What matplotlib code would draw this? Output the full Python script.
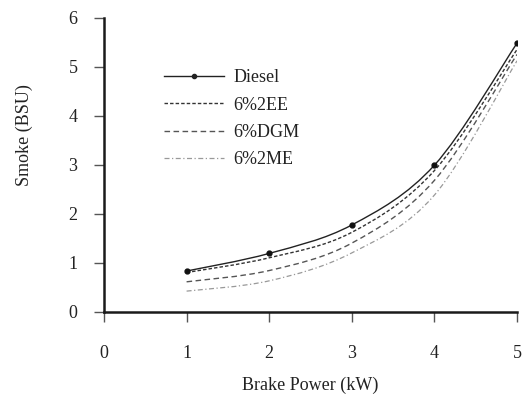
import numpy as np
import matplotlib
matplotlib.use("Agg")
import matplotlib.pyplot as plt
from matplotlib.path import Path
from matplotlib.patches import PathPatch
from matplotlib.lines import Line2D

power = [1, 2, 3, 4, 5]
diesel = [0.83, 1.19, 1.77, 2.99, 5.48]
ee = [0.80, 1.10, 1.62, 2.88, 5.35]
dgm = [0.61, 0.84, 1.40, 2.68, 5.25]
me = [0.42, 0.63, 1.20, 2.38, 5.12]
labels = ["Diesel", "6%2EE", "6%DGM", "6%2ME"]
xticks = [0, 1, 2, 3, 4, 5]
yticks = [0, 1, 2, 3, 4, 5, 6]

plt.rcParams['font.family'] = ['Liberation Serif', 'DejaVu Serif']

fig = plt.figure(figsize=(5.22, 3.96), dpi=100)
ax = fig.add_axes([104/522, (396-311.7)/396, 413/522, 294/396])
ax.set_xlim(0, 5)
ax.set_ylim(0, 6)


def smooth_path(xs, ys):
    # Excel-like smoothed line: Catmull-Rom segments as cubic Bezier
    xs = np.asarray(xs, float)
    ys = np.asarray(ys, float)
    n = len(xs)
    verts = [(xs[0], ys[0])]
    codes = [Path.MOVETO]
    for i in range(n - 1):
        p0 = (xs[max(i-1, 0)], ys[max(i-1, 0)])
        p1 = (xs[i], ys[i])
        p2 = (xs[i+1], ys[i+1])
        p3 = (xs[min(i+2, n-1)], ys[min(i+2, n-1)])
        c1 = (p1[0] + (p2[0]-p0[0])/6, p1[1] + (p2[1]-p0[1])/6)
        c2 = (p2[0] - (p3[0]-p1[0])/6, p2[1] - (p3[1]-p1[1])/6)
        verts += [c1, c2, p2]
        codes += [Path.CURVE4]*3
    return Path(verts, codes)


styles = [
    dict(color='#222222', ls='-', lw=1.0),
    dict(color='#333333', ls=(0, (2.5, 1.5)), lw=1.0),
    dict(color='#555555', ls=(0, (4, 2.5)), lw=1.0),
    dict(color='#999999', ls=(0, (4, 2, 1, 2)), lw=0.9),
]
series = [diesel, ee, dgm, me]
for ys, st in zip(series, styles):
    patch = PathPatch(smooth_path(power, ys), facecolor='none', edgecolor=st['color'],
                      linestyle=st['ls'], lw=st['lw'], transform=ax.transData)
    ax.add_patch(patch)
ax.plot(power, diesel, ls='none', marker='o', ms=3.5, color='#111111')

ax.spines['top'].set_visible(False)
ax.spines['right'].set_visible(False)
for s in ['left', 'bottom']:
    ax.spines[s].set_linewidth(1.8)
    ax.spines[s].set_color('#1a1a1a')
ax.set_xticks(xticks)
ax.set_yticks(yticks)
ax.tick_params(direction='out', length=7, width=1.0, colors='#555555', labelsize=13,
               labelcolor='#222222')
ax.tick_params(axis='x', pad=17)
ax.tick_params(axis='y', pad=12)

ax.set_xlabel('Brake Power (kW)', fontsize=13, color='#222222')
ax.xaxis.set_label_coords(0.5, -0.222)
ax.set_ylabel('Smoke (BSU)', fontsize=13, color='#222222')
ax.yaxis.set_label_coords(-0.172, 0.6)

handles = []
for i, st in enumerate(styles):
    h = Line2D([], [], color=st['color'], ls=st['ls'], lw=st['lw'],
               marker='o' if i == 0 else None, ms=3, markevery=[1] if i == 0 else None)
    handles.append(h)
leg = ax.legend(handles, labels, loc='upper left', bbox_to_anchor=(155/522, 1-60/396),
                bbox_transform=fig.transFigure, frameon=False, fontsize=13,
                handlelength=3.3, handletextpad=0.55, labelspacing=0.58, borderpad=0)
for t in leg.get_texts():
    t.set_color('#222222')

fig.savefig('out.png', dpi=100)
